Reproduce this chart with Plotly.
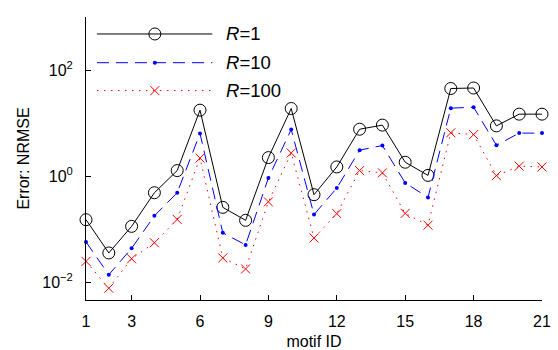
import plotly.graph_objects as go

motif_ids = list(range(1, 22))
r1 = [0.152, 0.036, 0.114, 0.49, 1.28, 17.6, 0.26, 0.148, 2.25, 18.9,
      0.45, 1.5, 7.7, 9.2, 1.84, 1.04, 45, 46, 8.9, 14.8, 14.8]
r10 = [0.058, 0.014, 0.044, 0.18, 0.49, 6.4, 0.086, 0.051, 0.93, 7.6,
       0.19, 0.6, 3.1, 3.8, 0.75, 0.40, 19.2, 20, 3.85, 6.5, 6.5]
r100 = [0.025, 0.0078, 0.028, 0.056, 0.154, 2.2, 0.029, 0.018, 0.33, 2.75,
        0.069, 0.198, 1.28, 1.16, 0.20, 0.12, 6.6, 6.1, 1.03, 1.55, 1.5]
x_ticks = [1, 3, 6, 9, 12, 15, 18, 21]
y_tickvals = [0.01, 1, 100]
y_ticktext = ["10<sup>\u22122</sup>", "10<sup>0</sup>", "10<sup>2</sup>"]
labels = ["1", "10", "100"]

FONT = "Liberation Sans, Arial, sans-serif"
styles = [
    dict(line=dict(color="black", width=1),
         marker=dict(symbol="circle-open", size=12, color="black", line=dict(width=1))),
    dict(line=dict(color="blue", width=1, dash="12px,7px"),
         marker=dict(symbol="circle", size=4, color="blue")),
    dict(line=dict(color="red", width=1, dash="1.5px,5.5px"),
         marker=dict(symbol="x-thin", size=9, color="red", line=dict(color="red", width=1))),
]
series = [r1, r10, r100]

fig = go.Figure()
for vals, st in zip(series, styles):
    fig.add_trace(go.Scatter(x=motif_ids, y=vals, mode="lines+markers",
                             line=st["line"], marker=st["marker"],
                             cliponaxis=False, showlegend=False, hoverinfo="skip"))

# manual MATLAB-style legend on an overlay axis spanning [0,1]
leg_y = [0.940, 0.8385, 0.740]
for yy, st, lab in zip(leg_y, styles, labels):
    fig.add_trace(go.Scatter(x=[0.024, 0.277], y=[yy, yy], mode="lines",
                             line=st["line"], xaxis="x2", yaxis="y2",
                             showlegend=False, hoverinfo="skip"))
    fig.add_trace(go.Scatter(x=[0.151], y=[yy], mode="markers",
                             marker=st["marker"], xaxis="x2", yaxis="y2",
                             showlegend=False, hoverinfo="skip"))
    fig.add_annotation(x=0.303, y=yy, xref="paper", yref="paper",
                       text="<i>R</i>=" + lab, showarrow=False, xanchor="left",
                       yanchor="middle", font=dict(family=FONT, size=18.5, color="black"))

fig.update_layout(
    width=558, height=350,
    margin=dict(l=86, r=16, t=17, b=50),
    paper_bgcolor="white", plot_bgcolor="white",
    font=dict(family=FONT, size=16, color="black"),
    xaxis=dict(range=[1, 21], tickvals=x_ticks, ticks="inside", ticklen=5,
               tickcolor="black", showline=True, linecolor="black", linewidth=1,
               showgrid=False, zeroline=False, mirror=False, ticklabelstandoff=7,
               automargin=False,
               title=dict(text="motif ID", standoff=6, font=dict(size=16))),
    yaxis=dict(type="log", range=[-2.33, 3.0], tickvals=y_tickvals, ticktext=y_ticktext,
               ticks="inside", ticklen=5, tickcolor="black", showline=True,
               linecolor="black", linewidth=1, showgrid=False, zeroline=False,
               ticklabelstandoff=9, automargin=False,
               title=dict(text="Error: NRMSE", standoff=8, font=dict(size=16))),
    xaxis2=dict(range=[0, 1], overlaying="x", visible=False, fixedrange=True),
    yaxis2=dict(range=[0, 1], overlaying="y", visible=False, fixedrange=True),
)

fig.write_html("out.html")
